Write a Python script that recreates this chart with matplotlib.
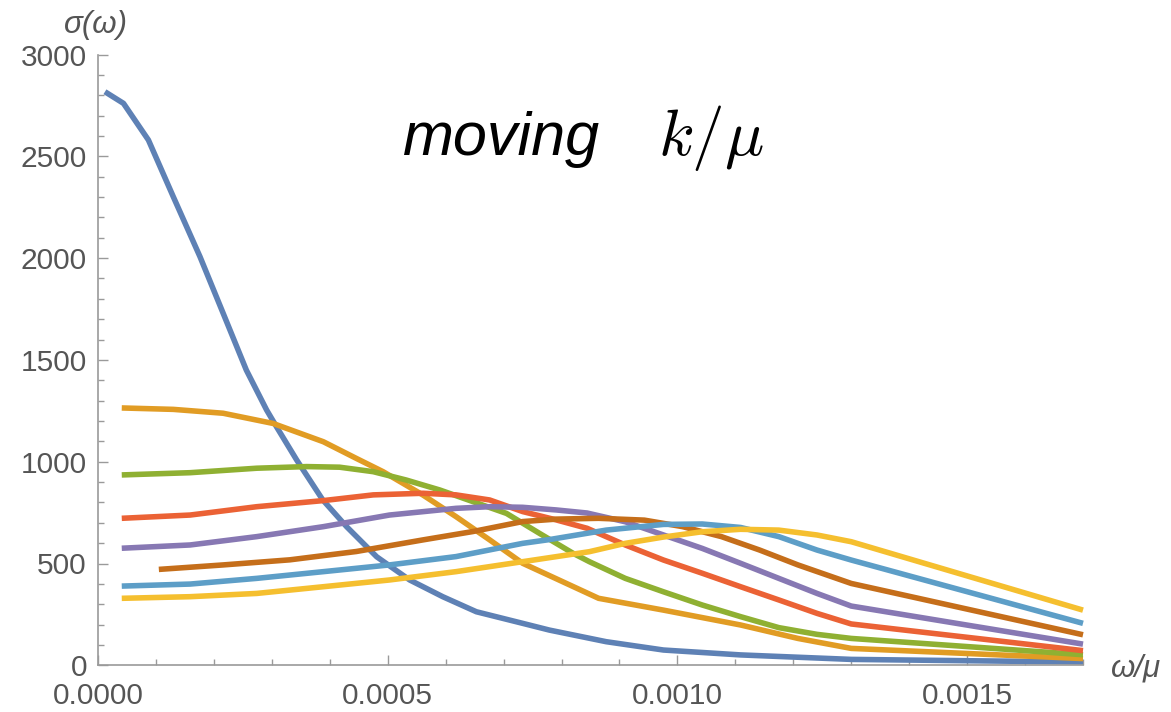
import numpy as np
import matplotlib
matplotlib.use("Agg")
import matplotlib.pyplot as plt
from matplotlib.ticker import MultipleLocator, FormatStrFormatter

# omega/mu values are given in units of 1e-4, sigma(omega)
blue_w = [0.12, 0.44, 0.87, 1.30, 1.76, 2.16, 2.56, 2.91, 3.08, 3.43, 3.88, 4.29, 4.81, 5.38,
          5.95, 6.53, 7.33, 7.79, 8.77, 9.76, 11.09, 13.0, 17.0]
blue_s = [2817, 2760, 2580, 2301, 2007, 1729, 1450, 1254, 1172, 1008, 812, 681, 533, 419,
          337, 263, 206, 173, 116, 75, 51, 29, 16]

orange_w = [0.41, 1.30, 2.16, 3.02, 3.89, 4.46, 4.92, 5.61, 6.18, 6.76, 7.33, 7.91, 8.64,
            9.76, 11.09, 12.08, 13.0, 17.0]
orange_s = [1264, 1257, 1238, 1188, 1098, 1016, 951, 836, 730, 616, 501, 425, 329,
            271, 198, 132, 83, 33]

green_w = [0.41, 1.59, 2.74, 3.60, 4.17, 4.75, 5.32, 5.90, 6.47, 7.05, 7.62, 8.20, 8.48,
           9.10, 9.76, 10.43, 11.09, 11.75, 12.41, 13.0, 17.0]
green_s = [935, 946, 968, 976, 973, 951, 910, 861, 804, 746, 648, 550, 509,
           427, 361, 296, 239, 185, 152, 132, 52]

red_w = [0.41, 1.59, 2.74, 3.89, 4.75, 5.61, 6.18, 6.76, 7.33, 7.91, 8.44, 9.10, 9.76,
         10.43, 11.09, 11.75, 12.41, 13.0, 17.0]
red_s = [722, 738, 779, 809, 837, 845, 837, 812, 755, 714, 673, 591, 517,
         452, 386, 321, 255, 203, 72]

purple_w = [0.41, 1.59, 2.74, 3.89, 5.03, 6.18, 6.76, 7.33, 7.91, 8.44, 9.10, 9.76, 10.43,
            11.09, 11.75, 12.41, 13.0, 17.0]
purple_s = [575, 591, 632, 681, 738, 771, 779, 776, 763, 748, 705, 640, 574,
            501, 427, 353, 291, 104]

brown_w = [1.05, 2.16, 3.31, 4.46, 5.61, 6.47, 7.33, 7.91, 8.64, 9.43, 10.09, 10.76, 11.42,
           12.08, 13.0, 17.0]
brown_s = [471, 493, 518, 559, 616, 657, 706, 718, 722, 713, 681, 632, 566,
           493, 402, 150]

ltblue_w = [0.41, 1.59, 2.74, 3.89, 5.03, 6.18, 7.33, 7.78, 8.77, 9.76, 10.43, 11.09, 11.75,
            12.41, 13.0, 17.0]
ltblue_s = [389, 399, 427, 460, 493, 534, 599, 617, 664, 692, 694, 677, 632,
            566, 517, 206]

yellow_w = [0.41, 1.59, 2.74, 3.89, 5.03, 6.18, 7.33, 8.48, 9.10, 9.76, 10.43, 11.09, 11.75,
            12.41, 13.0, 17.0]
yellow_s = [329, 337, 353, 386, 419, 460, 509, 558, 599, 630, 656, 668, 664,
            640, 607, 271]

series = [
    (blue_w, blue_s, "#5E81B5"),
    (orange_w, orange_s, "#E19C24"),
    (green_w, green_s, "#8FB032"),
    (red_w, red_s, "#EB6235"),
    (purple_w, purple_s, "#8778B3"),
    (brown_w, brown_s, "#C56E1A"),
    (ltblue_w, ltblue_s, "#5D9EC7"),
    (yellow_w, yellow_s, "#F5BF2F"),
]

font = "Liberation Sans"
gray = "#555555"
axcol = "#9a9a9a"

fig = plt.figure(figsize=(11.71, 7.12), dpi=100)
ax = fig.add_axes([98 / 1171, 1 - 665.3 / 712, 985 / 1171, 610.8 / 712])

for w, s, c in series:
    ax.plot(np.array(w) * 1e-4, s, color=c, lw=4.0, solid_joinstyle="round",
            solid_capstyle="butt", clip_on=False)

ax.set_xlim(0, 0.0017)
ax.set_ylim(0, 3000)

for side in ["top", "right"]:
    ax.spines[side].set_visible(False)
for side in ["left", "bottom"]:
    ax.spines[side].set_color(axcol)
    ax.spines[side].set_linewidth(1.2)

ax.xaxis.set_major_locator(MultipleLocator(0.0005))
ax.xaxis.set_minor_locator(MultipleLocator(0.0001))
ax.yaxis.set_major_locator(MultipleLocator(500))
ax.yaxis.set_minor_locator(MultipleLocator(100))
ax.xaxis.set_major_formatter(FormatStrFormatter("%.4f"))

ax.tick_params(which="both", direction="in", color=axcol, width=1.0)
ax.tick_params(which="major", length=7)
ax.tick_params(which="minor", length=4.5)
ax.tick_params(axis="x", which="major", pad=12, labelsize=21.5, labelcolor=gray)
ax.tick_params(axis="y", which="major", pad=8, labelsize=21.5, labelcolor=gray)
for lab in ax.get_xticklabels() + ax.get_yticklabels():
    lab.set_fontfamily(font)

fig.text(96 / 1171, 1 - 25 / 712, "σ(ω)", fontsize=22.5, color=gray, family=font,
         style="italic", ha="center", va="center")
fig.text(1136 / 1171, 1 - 669 / 712, "ω/μ", fontsize=22.5, color=gray, family=font,
         style="italic", ha="center", va="center")

fig.text(403 / 1171, 1 - 155 / 712, "moving", fontsize=44, family=font,
         style="italic", ha="left", va="baseline")
plt.rcParams["mathtext.fontset"] = "cm"
fig.text(658 / 1171, 1 - 155 / 712, r"$k/\mu$", fontsize=47, ha="left", va="baseline")

fig.savefig("out.png", dpi=100)
